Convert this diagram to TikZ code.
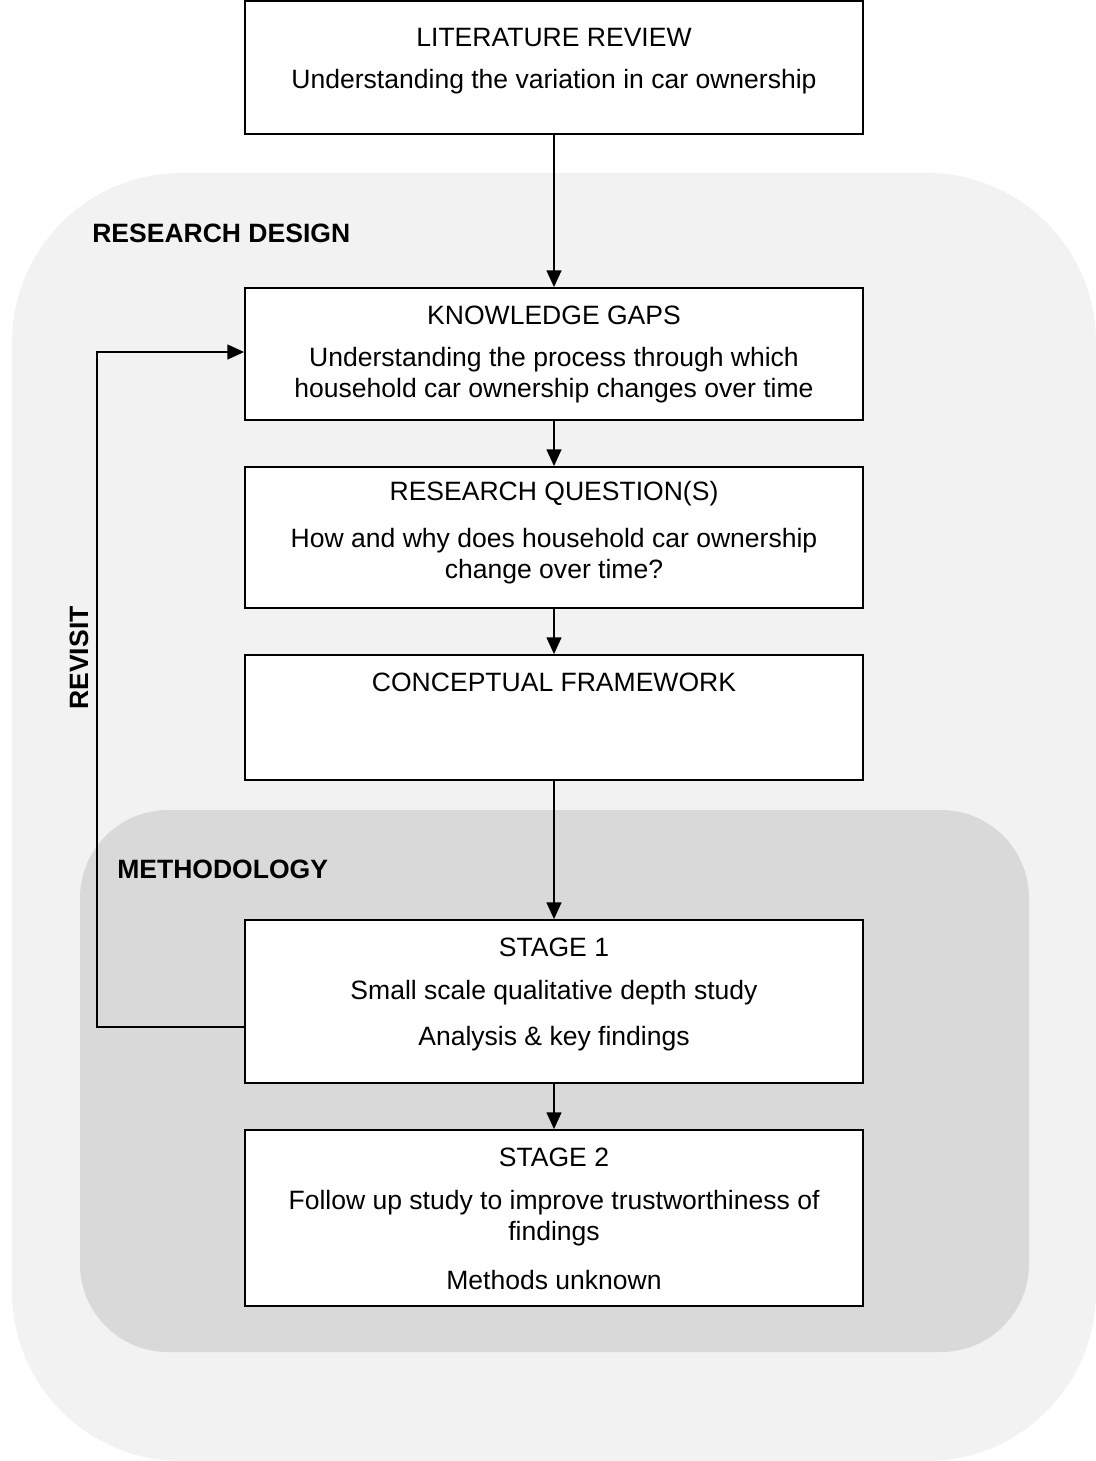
\documentclass[tikz,border=0pt]{standalone}
\usepackage{fontspec}
\setmainfont{Liberation Sans}
\usetikzlibrary{arrows.meta}
\definecolor{designgray}{RGB}{242,242,242}
\definecolor{methodgray}{RGB}{217,217,217}
\begin{document}
\begin{tikzpicture}[x=0.75pt,y=-0.75pt,
  stagebox/.style={draw=black,line width=1.3pt,fill=white},
  txt/.style={font=\fontsize{19.9}{24}\selectfont,inner sep=0pt},
  heading/.style={font=\fontsize{19.9}{24}\selectfont\bfseries,inner sep=0pt},
  flow/.style={line width=1.5pt,-{Triangle[length=12.5pt,width=11pt]}}]
\useasboundingbox (0,0) rectangle (1096,1461);

% nested regions
\fill[designgray,rounded corners=127pt] (12,173) rectangle (1096,1461);
\fill[methodgray,rounded corners=66pt] (80,810) rectangle (1029,1352);

\node[heading,anchor=west] (design) at (92,233) {RESEARCH DESIGN};
\node[heading,anchor=west] (method) at (117,869) {METHODOLOGY};

% boxes
\node[inner sep=0pt,minimum width=618*0.75pt,minimum height=133*0.75pt,stagebox] (lit) at (554,67.5) {};
\node[inner sep=0pt,minimum width=618*0.75pt,minimum height=132*0.75pt,stagebox] (gaps) at (554,354) {};
\node[inner sep=0pt,minimum width=618*0.75pt,minimum height=141*0.75pt,stagebox] (rq) at (554,537.5) {};
\node[inner sep=0pt,minimum width=618*0.75pt,minimum height=125*0.75pt,stagebox] (cf) at (554,717.5) {};
\node[inner sep=0pt,minimum width=618*0.75pt,minimum height=163*0.75pt,stagebox] (s1) at (554,1001.5) {};
\node[inner sep=0pt,minimum width=618*0.75pt,minimum height=176*0.75pt,stagebox] (s2) at (554,1218) {};

% box texts
\node[txt] (litT) at (554,37) {LITERATURE REVIEW};
\node[txt] (litS) at (554,82) {Understanding the variation in car ownership};

\node[txt] (gapsT) at (554,315) {KNOWLEDGE GAPS};
\node[txt] (gapsS1) at (554,360) {Understanding the process through which};
\node[txt] (gapsS2) at (554,391) {household car ownership changes over time};

\node[txt] (rqT) at (554,494) {RESEARCH QUESTION(S)};
\node[txt] (rqS1) at (554,541) {How and why does household car ownership};
\node[txt] (rqS2) at (554,572) {change over time?};

\node[txt] (cfT) at (554,682) {CONCEPTUAL FRAMEWORK};

\node[txt] (s1T) at (554,947) {STAGE 1};
\node[txt] (s1S1) at (554,993) {Small scale qualitative depth study};
\node[txt] (s1S2) at (554,1039) {Analysis \& key findings};

\node[txt] (s2T) at (554,1157) {STAGE 2};
\node[txt] (s2S1) at (554,1203) {Follow up study to improve trustworthiness of};
\node[txt] (s2S2) at (554,1234) {findings};
\node[txt] (s2S3) at (554,1280) {Methods unknown};

% main flow
\draw[flow] (lit.south) -- (gaps.north);
\draw[flow] (gaps.south) -- (rq.north);
\draw[flow] (rq.south) -- (cf.north);
\draw[flow] (cf.south) -- (s1.north);
\draw[flow] (s1.south) -- (s2.north);

% feedback loop
\coordinate (loopBot) at (97,1027);
\coordinate (loopTop) at (97,352);
\draw[flow] (s1.west |- loopBot) -- (loopBot) -- (loopTop) -- (gaps.west |- loopTop);
\node[heading,rotate=90] (revisit) at (79,658) {REVISIT};
\end{tikzpicture}
\end{document}
